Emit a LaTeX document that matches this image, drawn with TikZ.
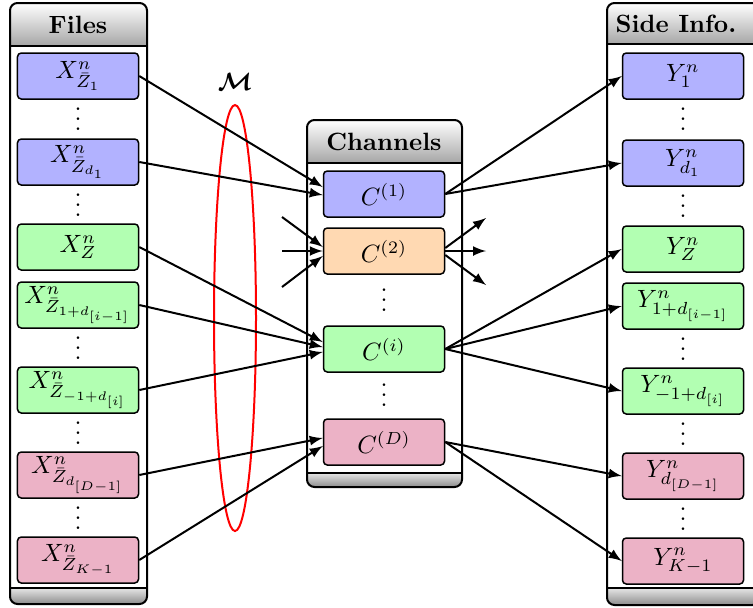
\documentclass[tikz,border=0pt]{standalone}
\usepackage{amsmath}
\usetikzlibrary{calc}

\begin{document}
\begin{tikzpicture}[x=0.4pt,y=-0.4pt,
    box/.style={draw,semithick,rounded corners=1.5pt,minimum width=48.4pt,minimum height=18.4pt,inner sep=0pt},
    bluebox/.style={box,fill=blue!30},
    greenbox/.style={box,fill=green!30},
    orangebox/.style={box,fill=orange!30},
    pinkbox/.style={box,fill=purple!30},
    dotsnode/.style={inner sep=0pt,yshift=3pt},
    link/.style={thick,-latex}]
  \useasboundingbox (0,0) rectangle (753,607);

  % columns
  \foreach \xa/\ya/\xb/\yb/\yh/\yf in {10/3/147/604/46/588, 307/120/462/487/163/473, 607/3/760/605/44/588}{
    \begin{scope}
      \clip[rounded corners=3pt] (\xa,\ya) rectangle (\xb,\yb);
      \shade[top color=white,bottom color=gray!70] (\xa,\ya) rectangle (\xb,\yh);
      \shade[top color=gray!20,bottom color=gray!90] (\xa,\yf) rectangle (\xb,\yb);
    \end{scope}
    \draw[thick] (\xa,\yh) -- (\xb,\yh) (\xa,\yf) -- (\xb,\yf);
    \draw[thick,rounded corners=3pt] (\xa,\ya) rectangle (\xb,\yb);
  }
  \node (filestitle) at (78,25) {\textbf{Files}};
  \node (chantitle) at (384,142) {\textbf{Channels}};
  \node (sidetitle) at (676,24) {\textbf{Side Info.}};

  % files
  \node[bluebox] (x1) at (78,76) {$X^n_{\bar{Z}_1}$};
  \node[bluebox] (x2) at (78,162) {$X^n_{\bar{Z}_{d_1}}$};
  \node[greenbox] (x3) at (78,247) {$X^n_{Z}$};
  \node[greenbox] (x4) at (78,305) {$X^n_{\bar{Z}_{1+d_{[i-1]}}}$};
  \node[greenbox] (x5) at (78,390) {$X^n_{\bar{Z}_{-1+d_{[i]}}}$};
  \node[pinkbox] (x6) at (78,475) {$X^n_{\bar{Z}_{d_{[D-1]}}}$};
  \node[pinkbox] (x7) at (78,560) {$X^n_{\bar{Z}_{K-1}}$};
  \foreach \y [count=\i] in {119,205,348,433,518}
    \node[dotsnode] (xdots\i) at (78,\y) {$\vdots$};

  % channels
  \node[bluebox] (c1) at (384,194) {$C^{(1)}$};
  \node[orangebox] (c2) at (384,251) {$C^{(2)}$};
  \node[greenbox] (ci) at (384,349) {$C^{(i)}$};
  \node[pinkbox] (cd) at (384,442) {$C^{(D)}$};
  \node[dotsnode] (cdots1) at (384,300) {$\vdots$};
  \node[dotsnode] (cdots2) at (384,395) {$\vdots$};

  % side information
  \node[bluebox] (y1) at (683,76) {$Y^n_{1}$};
  \node[bluebox] (y2) at (683,163) {$Y^n_{d_1}$};
  \node[greenbox] (y3) at (683,249) {$Y^n_{Z}$};
  \node[greenbox] (y4) at (683,306) {$Y^n_{1+d_{[i-1]}}$};
  \node[greenbox] (y5) at (683,391) {$Y^n_{-1+d_{[i]}}$};
  \node[pinkbox] (y6) at (683,476) {$Y^n_{d_{[D-1]}}$};
  \node[pinkbox] (y7) at (683,561) {$Y^n_{K-1}$};
  \foreach \y [count=\i] in {119,206,349,434,519}
    \node[dotsnode] (ydots\i) at (683,\y) {$\vdots$};

  % the set M
  \draw[red,thick] (235,318) ellipse [x radius=8.4pt,y radius=85.2pt];
  \node (mlabel) at (235,82) {$\boldsymbol{\mathcal{M}}$};

  % files to channels
  \draw[link] (x1.east) -- ($(c1.west)+(0,-7)$);
  \draw[link] (x2.east) -- ($(c1.west)+(0,1)$);
  \draw[link] (x3.east) -- ($(ci.west)+(0,-7)$);
  \draw[link] (x4.east) -- ($(ci.west)+(0,-2)$);
  \draw[link] (x5.east) -- ($(ci.west)+(0,3)$);
  \draw[link] (x6.east) -- ($(cd.west)+(0,-4)$);
  \draw[link] (x7.east) -- ($(cd.west)+(0,4)$);

  % channel 2
  \coordinate (in1) at (282,217);
  \coordinate (in2) at (282,251);
  \coordinate (in3) at (282,287);
  \coordinate (out1) at (486,218);
  \coordinate (out2) at (486,251);
  \coordinate (out3) at (486,285);
  \draw[link] (in1) -- ($(c2.west)+(0,-4)$);
  \draw[link] (in2) -- (c2.west);
  \draw[link] (in3) -- ($(c2.west)+(0,5)$);
  \draw[link] ($(c2.east)+(0,-3)$) -- (out1);
  \draw[link] (c2.east) -- (out2);
  \draw[link] ($(c2.east)+(0,4)$) -- (out3);

  % channels to side information
  \draw[link] (c1.east) -- (y1.west);
  \draw[link] (c1.east) -- (y2.west);
  \draw[link] (ci.east) -- (y3.west);
  \draw[link] (ci.east) -- (y4.west);
  \draw[link] (ci.east) -- (y5.west);
  \draw[link] (cd.east) -- (y6.west);
  \draw[link] (cd.east) -- (y7.west);
\end{tikzpicture}
\end{document}
